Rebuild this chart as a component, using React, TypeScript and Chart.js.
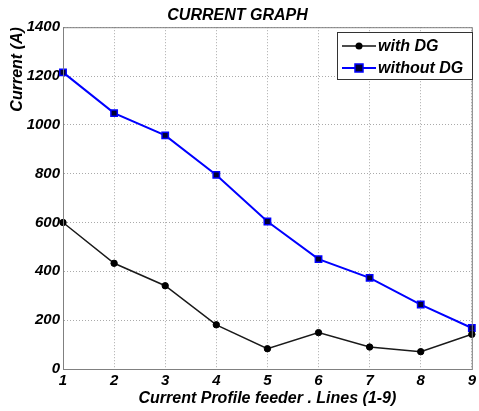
import React, { useEffect, useRef } from "react";
import { Chart, registerables } from "chart.js";

Chart.register(...registerables);

const categories = ["1", "2", "3", "4", "5", "6", "7", "8", "9"];
const withDG = [600, 433, 341, 181, 83, 149, 90, 71, 142];
const withoutDG = [1215, 1048, 957, 795, 604, 450, 373, 264, 168];
const yTicks = [0, 200, 400, 600, 800, 1000, 1200, 1400];

const FONT = "'Liberation Sans', Arial, sans-serif";

const boxPlugin = {
  id: "boxPlugin",
  afterDatasetsDraw(chart: any) {
    const { ctx, chartArea } = chart;
    ctx.save();
    ctx.strokeStyle = "#808080";
    ctx.lineWidth = 1;
    ctx.setLineDash([]);
    ctx.strokeRect(chartArea.left + 0.5, chartArea.top + 0.5, chartArea.right - chartArea.left, chartArea.bottom - chartArea.top);
    ctx.restore();
  },
};

const legendPlugin = {
  id: "legendBox",
  afterDraw(chart: any) {
    const { ctx } = chart;
    const x0 = 337, y0 = 32, w = 135, h = 47;
    ctx.save();
    ctx.setLineDash([]);
    ctx.fillStyle = "#fff";
    ctx.fillRect(x0, y0, w, h);
    ctx.strokeStyle = "#333";
    ctx.lineWidth = 1;
    ctx.strokeRect(x0 + 0.5, y0 + 0.5, w, h);
    const items = [
      { label: "with DG", color: "#111", fill: "#000", style: "circle", y: 46, lw: 1.5 },
      { label: "without DG", color: "#0000ff", fill: "#000033", style: "rect", y: 68, lw: 2 },
    ];
    items.forEach((it) => {
      ctx.strokeStyle = it.color;
      ctx.lineWidth = it.lw;
      ctx.beginPath();
      ctx.moveTo(342, it.y);
      ctx.lineTo(376, it.y);
      ctx.stroke();
      ctx.fillStyle = it.fill;
      if (it.style === "circle") {
        ctx.beginPath();
        ctx.arc(359, it.y, 3.5, 0, Math.PI * 2);
        ctx.fill();
      } else {
        ctx.lineWidth = 1.5;
        ctx.fillRect(355, it.y - 4, 8, 8);
        ctx.strokeRect(355, it.y - 4, 8, 8);
      }
      ctx.fillStyle = "#000";
      ctx.font = `italic bold 16px ${FONT}`;
      ctx.textBaseline = "middle";
      ctx.textAlign = "left";
      ctx.fillText(it.label, 378, it.y + 1);
    });
    ctx.restore();
  },
};

export default function App() {
  const ref = useRef<HTMLCanvasElement>(null);
  useEffect(() => {
    if (!ref.current) return;
    const chart = new Chart(ref.current, {
      type: "line",
      data: {
        labels: categories,
        datasets: [
          {
            label: "with DG",
            data: withDG,
            borderColor: "#1a1a1a",
            backgroundColor: "#000",
            borderWidth: 1.5,
            pointStyle: "circle",
            pointRadius: 3.2,
            pointBorderWidth: 1,
            pointBackgroundColor: "#000",
            pointBorderColor: "#000",
            tension: 0,
          },
          {
            label: "without DG",
            data: withoutDG,
            borderColor: "#0000ff",
            backgroundColor: "#000033",
            borderWidth: 2,
            pointStyle: "rect",
            pointRadius: 4.5,
            pointBackgroundColor: "#000033",
            pointBorderColor: "#0000ff",
            pointBorderWidth: 1.5,
            tension: 0,
          },
        ],
      },
      options: {
        responsive: false,
        animation: false,
        layout: { padding: { top: 0, right: 4, bottom: 0, left: 0 } },
        plugins: {
          legend: { display: false },
          tooltip: { enabled: false },
          title: {
            display: true,
            text: "CURRENT GRAPH",
            color: "#000",
            font: { family: FONT, size: 16, style: "italic", weight: "bold", lineHeight: 1.2 },
            padding: { top: 6, bottom: 2 },
          },
        },
        scales: {
          x: {
            type: "category",
            offset: false,
            grid: { color: "#aaa", drawTicks: false },
            border: { color: "#808080", dash: [1, 2] },
            ticks: {
              color: "#000",
              padding: 3,
              maxRotation: 0,
              font: { family: FONT, size: 15, style: "italic", weight: "bold" },
            },
            title: {
              display: true,
              text: "Current Profile feeder . Lines (1-9)",
              color: "#000",
              font: { family: FONT, size: 16, style: "italic", weight: "bold", lineHeight: 1.2 },
              padding: { top: 0, bottom: 3 },
            },
            afterFit: (s: any) => {
              s.height = 42;
            },
          },
          y: {
            min: 0,
            max: 1400,
            afterBuildTicks: (s: any) => {
              s.ticks = yTicks.map((v) => ({ value: v }));
            },
            grid: { color: "#aaa", drawTicks: false },
            border: { color: "#808080", dash: [1, 2] },
            ticks: {
              color: "#000",
              padding: 3,
              callback: (v: any) => String(v),
              font: { family: FONT, size: 15, style: "italic", weight: "bold" },
            },
            title: {
              display: true,
              text: "Current (A)",
              align: "end",
              color: "#000",
              font: { family: FONT, size: 16, style: "italic", weight: "bold", lineHeight: 1.2 },
              padding: { top: 8, bottom: 0 },
            },
            afterFit: (s: any) => {
              s.width = 63;
            },
          },
        },
      },
      plugins: [boxPlugin, legendPlugin],
    } as any);
    return () => chart.destroy();
  }, []);
  return (
    <div style={{ position: "fixed", left: 0, top: 0, width: 479, height: 411, background: "#fff" }}>
      <canvas ref={ref} width={479} height={411} />
    </div>
  );
}
